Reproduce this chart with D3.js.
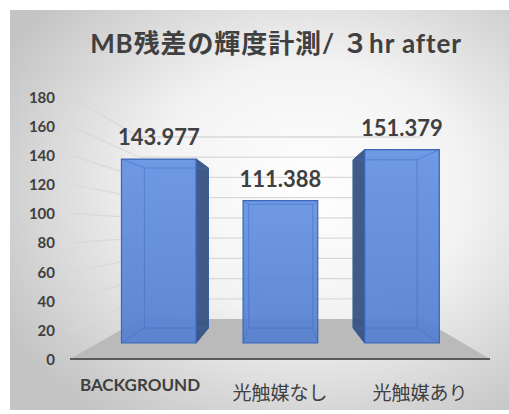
<!DOCTYPE html>
<head>
  <meta charset="utf-8">
  <title>MB残差の輝度計測</title>
  <script src="https://cdn.jsdelivr.net/npm/d3@7"></script>
  <style>
    body { margin: 0; background: #fff; }
    text { font-family: Lato, "Noto Sans CJK JP", sans-serif; fill: #404040; }
  </style>
</head>
<body>
<script>
  var WIDTH = 509, HEIGHT = 414;

  // data
  var categories = ["BACKGROUND", "光触媒なし", "光触媒あり"];
  var values = [143.977, 111.388, 151.379];
  var valueLabels = ["143.977", "111.388", "151.379"];
  var yTicks = [0, 20, 40, 60, 80, 100, 120, 140, 160, 180];
  var title = "MB残差の輝度計測/ ３hr after";

  var svg = d3.select("body").append("svg")
      .attr("width", WIDTH).attr("height", HEIGHT);

  var defs = svg.append("defs");
  var bg = defs.append("radialGradient").attr("id", "bg")
      .attr("cx", "60%").attr("cy", "45%").attr("r", "70%");
  bg.append("stop").attr("offset", "0%").attr("stop-color", "#ffffff");
  bg.append("stop").attr("offset", "45%").attr("stop-color", "#f3f3f3");
  bg.append("stop").attr("offset", "100%").attr("stop-color", "#c4c4c4");

  var barGrad = defs.append("linearGradient").attr("id", "barFill")
      .attr("x1", 0).attr("y1", 0).attr("x2", 0).attr("y2", 1);
  barGrad.append("stop").attr("offset", "0%").attr("stop-color", "#6592e2");
  barGrad.append("stop").attr("offset", "100%").attr("stop-color", "#5580d0");

  svg.append("rect").attr("x", 10).attr("y", 10)
      .attr("width", WIDTH - 10).attr("height", 400)
      .attr("fill", "url(#bg)");

  // 3d projection: front plane (t=0) and back wall (t=1)
  var x = d3.scaleBand().domain(categories).range([70, 490])
      .paddingInner(0.386).paddingOuter(0.193);
  var yFront = d3.scaleLinear().domain([0, 180]).range([359, 97]);
  var yBack = d3.scaleLinear().domain([0, 180]).range([319, 137]);
  var xBack = d3.scaleLinear().domain([70, 490]).range([140, 422]);
  var T0 = 0.4, T1 = 0.775; // bar depth

  function px(X, t) { return X + t * (xBack(X) - X); }
  function py(v, t) { return yFront(v) + t * (yBack(v) - yFront(v)); }
  function pt(X, v, t) { return [px(X, t), py(v, t)]; }
  var line = d3.line();

  // side wall + back wall grid
  var grid = svg.append("g").attr("stroke", "#d9d9d9").attr("stroke-width", 1.3).attr("fill", "none");
  yTicks.forEach(function(v) {
    if (v === 0) return;
    grid.append("path").attr("d", line([pt(70, v, 0), pt(70, v, 1), pt(490, v, 1)]));
  });

  // floor
  svg.append("path")
      .attr("d", line([pt(70, 0, 0), pt(70, 0, 1), pt(490, 0, 1), pt(490, 0, 0)]) + "Z")
      .attr("fill", "#bababa");
  svg.append("line")
      .attr("x1", 70).attr("x2", 490)
      .attr("y1", yFront(0)).attr("y2", yFront(0))
      .attr("stroke", "#595959").attr("stroke-width", 1.8);

  // y tick labels
  svg.append("g").selectAll("text").data(yTicks).enter().append("text")
      .attr("x", 55).attr("y", function(d) { return yFront(d) + 2; })
      .attr("text-anchor", "end").attr("dominant-baseline", "middle")
      .attr("font-size", 15).attr("font-weight", "bold")
      .text(function(d) { return d; });

  // bars
  var bars = svg.append("g").selectAll("g").data(values).enter().append("g");
  bars.each(function(v, i) {
    var g = d3.select(this);
    var L = x(categories[i]), R = L + x.bandwidth();
    // visible side face
    var sideX = null;
    if (px(R, T1) > px(R, T0)) sideX = R;
    if (px(L, T1) < px(L, T0)) sideX = L;
    if (sideX !== null) {
      g.append("path")
        .attr("d", line([pt(sideX, v, T0), pt(sideX, v, T1), pt(sideX, 0, T1), pt(sideX, 0, T0)]) + "Z")
        .attr("fill", "#38527f").attr("fill-opacity", 0.95)
        .attr("stroke", "#2e4a78").attr("stroke-width", 1);
    }
    // front face
    g.append("path")
      .attr("d", line([pt(L, v, T0), pt(R, v, T0), pt(R, 0, T0), pt(L, 0, T0)]) + "Z")
      .attr("fill", "url(#barFill)").attr("fill-opacity", 0.93)
      .attr("stroke", "#3a66ba").attr("stroke-width", 1.2);
    // back edges seen through the face
    var inner = g.append("g").attr("stroke", "#3f6dc2").attr("stroke-opacity", 0.55)
        .attr("stroke-width", 1).attr("fill", "none");
    inner.append("path").attr("d", line([pt(L, v, T1), pt(R, v, T1), pt(R, 0, T1), pt(L, 0, T1)]) + "Z");
    [[L, v], [R, v], [R, 0], [L, 0]].forEach(function(c) {
      inner.append("path").attr("d", line([pt(c[0], c[1], T0), pt(c[0], c[1], T1)]));
    });
  });

  // value labels
  svg.append("g").selectAll("text").data(values).enter().append("text")
      .attr("x", function(d, i) { return px(x(categories[i]) + x.bandwidth() / 2, T0); })
      .attr("y", function(d) { return py(d, T0) - 14; })
      .attr("text-anchor", "middle")
      .attr("font-size", 22).attr("font-weight", "bold")
      .text(function(d, i) { return valueLabels[i]; });

  // category labels
  svg.append("g").selectAll("text").data(categories).enter().append("text")
      .attr("x", function(d) { return x(d) + x.bandwidth() / 2; })
      .attr("y", function(d) { return /[^\x00-\x7F]/.test(d) ? 400 : 391; })
      .attr("text-anchor", "middle")
      .attr("font-size", function(d) { return /[^\x00-\x7F]/.test(d) ? 19 : 17; })
      .attr("font-weight", function(d) { return /[^\x00-\x7F]/.test(d) ? "normal" : "bold"; })
      .text(function(d) { return d; });

  // title
  svg.append("text")
      .attr("x", 276).attr("y", 53)
      .attr("text-anchor", "middle")
      .attr("font-size", 26).attr("font-weight", "bold")
      .attr("letter-spacing", 0.9)
      .text(title);
</script>
</body>
